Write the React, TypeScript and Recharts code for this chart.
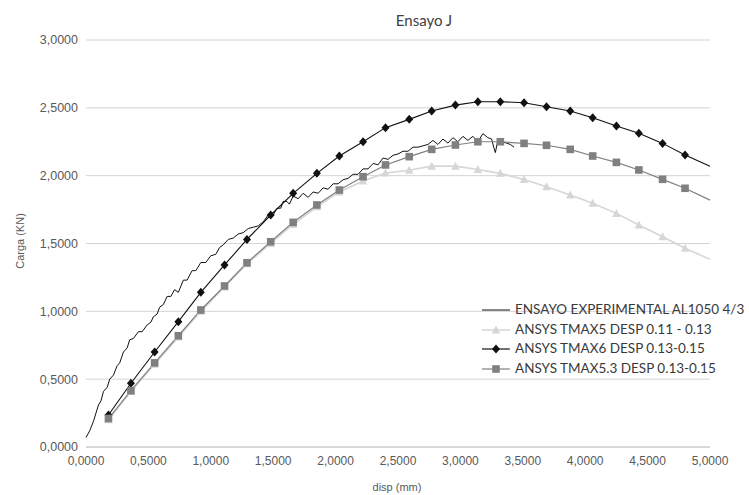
import React from 'react';
import { LineChart, Line, XAxis, YAxis, CartesianGrid, Legend } from 'recharts';

// Experimental curve
const expX = [
  0.00, 0.03, 0.06, 0.08, 0.10, 0.12, 0.14, 0.17, 0.19, 0.22, 0.25, 0.27, 0.30, 0.33, 0.35, 0.38, 0.42, 0.45, 0.49, 0.52,
  0.54, 0.57, 0.59, 0.62, 0.65, 0.68, 0.71, 0.74, 0.78, 0.81, 0.85, 0.88, 0.92, 0.96, 1.00, 1.04, 1.07, 1.10, 1.14, 1.18,
  1.22, 1.26, 1.30, 1.34, 1.38, 1.42, 1.46, 1.50, 1.53, 1.56, 1.58, 1.61, 1.63, 1.66, 1.70, 1.74, 1.78, 1.82, 1.86, 1.90,
  1.94, 1.98, 2.02, 2.06, 2.10, 2.14, 2.18, 2.22, 2.26, 2.30, 2.34, 2.38, 2.42, 2.46, 2.50, 2.54, 2.58, 2.62, 2.66, 2.70,
  2.74, 2.78, 2.82, 2.86, 2.90, 2.94, 2.98, 3.02, 3.06, 3.10, 3.14, 3.18, 3.22, 3.25, 3.27, 3.28, 3.30, 3.33, 3.37, 3.40, 3.43,
];
const expY = [
  0.07, 0.12, 0.19, 0.25, 0.31, 0.34, 0.41, 0.44, 0.50, 0.53, 0.60, 0.62, 0.70, 0.73, 0.79, 0.80, 0.85, 0.85, 0.90, 0.92,
  0.96, 0.98, 1.03, 1.05, 1.11, 1.11, 1.16, 1.14, 1.23, 1.23, 1.30, 1.30, 1.36, 1.36, 1.41, 1.42, 1.47, 1.49, 1.53, 1.54,
  1.57, 1.58, 1.61, 1.62, 1.63, 1.66, 1.71, 1.71, 1.76, 1.76, 1.81, 1.81, 1.79, 1.85, 1.83, 1.87, 1.84, 1.88, 1.87, 1.91,
  1.90, 1.94, 1.94, 1.97, 1.98, 2.01, 2.01, 2.05, 2.05, 2.09, 2.08, 2.13, 2.12, 2.15, 2.16, 2.18, 2.18, 2.21, 2.21, 2.22,
  2.23, 2.26, 2.23, 2.27, 2.24, 2.28, 2.25, 2.29, 2.26, 2.29, 2.25, 2.31, 2.28, 2.27, 2.20, 2.17, 2.26, 2.25, 2.24, 2.23, 2.21,
];

// ANSYS series (shared displacement values)
const ansysX = [
  0.18, 0.36, 0.55, 0.74, 0.92, 1.11, 1.29, 1.48, 1.66, 1.85, 2.03, 2.22, 2.40, 2.59, 2.77, 2.96, 3.14, 3.32, 3.51, 3.69,
  3.88, 4.06, 4.25, 4.43, 4.62, 4.80, 5.00,
];
const tmax5Y = [
  0.20, 0.41, 0.61, 0.81, 1.00, 1.18, 1.35, 1.50, 1.64, 1.77, 1.88, 1.96, 2.02, 2.04, 2.07, 2.07, 2.045, 2.017, 1.972, 1.919,
  1.857, 1.796, 1.722, 1.636, 1.55, 1.465, 1.383,
];
const tmax6Y = [
  0.236, 0.47, 0.70, 0.924, 1.14, 1.342, 1.53, 1.71, 1.87, 2.017, 2.145, 2.25, 2.354, 2.415, 2.477, 2.52, 2.545, 2.545, 2.538, 2.508,
  2.477, 2.427, 2.366, 2.312, 2.238, 2.152, 2.07,
];
const tmax53Y = [
  0.21, 0.415, 0.62, 0.82, 1.01, 1.187, 1.358, 1.513, 1.656, 1.784, 1.894, 1.992, 2.079, 2.14, 2.194, 2.226, 2.25, 2.25, 2.238, 2.224,
  2.194, 2.145, 2.098, 2.042, 1.973, 1.907, 1.82,
];

const xTicks = [0, 0.5, 1, 1.5, 2, 2.5, 3, 3.5, 4, 4.5, 5];
const yTicks = [0, 0.5, 1, 1.5, 2, 2.5, 3];

const seriesNames = [
  'ENSAYO EXPERIMENTAL AL1050 4/3',
  'ANSYS TMAX5 DESP 0.11 - 0.13',
  'ANSYS TMAX6 DESP 0.13-0.15',
  'ANSYS TMAX5.3 DESP 0.13-0.15',
];

const expData = expX.map((x, i) => ({ x, y: expY[i] }));
const tmax5Data = ansysX.map((x, i) => ({ x, y: tmax5Y[i] }));
const tmax6Data = ansysX.map((x, i) => ({ x, y: tmax6Y[i] }));
const tmax53Data = ansysX.map((x, i) => ({ x, y: tmax53Y[i] }));

const fmt = (v: number) => v.toFixed(4).replace('.', ',');

const C_EXP = '#111111';
const C_T5 = '#d6d6d6';
const C_T6 = '#111111';
const C_T53 = '#808080';

type Shape = 'diamond' | 'square' | 'triangle';

const marker = (shape: Shape, cx: number, cy: number, color: string, k?: string) => {
  if (shape === 'diamond') {
    return <polygon key={k} points={`${cx},${cy - 4.5} ${cx + 4},${cy} ${cx},${cy + 4.5} ${cx - 4},${cy}`} fill={color} />;
  }
  if (shape === 'square') {
    return <rect key={k} x={cx - 3.8} y={cy - 3.8} width={7.6} height={7.6} fill={color} />;
  }
  return <polygon key={k} points={`${cx},${cy - 4.5} ${cx + 4.2},${cy + 3.5} ${cx - 4.2},${cy + 3.5}`} fill={color} />;
};

const makeDot = (shape: Shape, color: string, n: number) => (props: any) => {
  const { cx, cy, index } = props;
  const k = `dot-${shape}-${index}`;
  if (cx == null || cy == null || index === n - 1) return <g key={k} />;
  return marker(shape, cx, cy, color, k);
};

const legendIcons = [
  { color: C_EXP, shape: null as Shape | null, width: 1 },
  { color: C_T5, shape: 'triangle' as Shape, width: 1.5 },
  { color: C_T6, shape: 'diamond' as Shape, width: 1.2 },
  { color: C_T53, shape: 'square' as Shape, width: 1.2 },
];

const LegendBox = () => (
  <div style={{ fontFamily: 'Lato, sans-serif', fontSize: 13.5, color: '#3a3a3a', textAlign: 'left' }}>
    {seriesNames.map((name, i) => (
      <div key={name} style={{ position: 'relative', height: 19.5 }}>
        <svg width={32} height={12} style={{ position: 'absolute', left: 0, top: 4 }}>
          <line x1={2} y1={6} x2={30} y2={6} stroke={legendIcons[i].color} strokeWidth={legendIcons[i].width} />
          {legendIcons[i].shape ? marker(legendIcons[i].shape as Shape, 16, 6, legendIcons[i].color) : null}
        </svg>
        <span style={{ position: 'absolute', left: 35, top: 0, whiteSpace: 'nowrap', lineHeight: '19.5px' }}>{name}</span>
      </div>
    ))}
  </div>
);

export default function App() {
  return (
    <div style={{ position: 'absolute', left: 0, top: 0, width: 749, height: 495, background: '#fff', overflow: 'hidden', fontFamily: '"Liberation Sans", Arial, sans-serif' }}>
      <LineChart width={749} height={495} margin={{ top: 40, right: 39, bottom: 18, left: 16 }}>
        <CartesianGrid vertical={false} stroke="#d4d4d4" />
        <XAxis
          type="number"
          dataKey="x"
          domain={[0, 5]}
          ticks={xTicks}
          tickFormatter={fmt}
          height={30}
          tickLine={false}
          tickSize={0}
          tickMargin={9}
          axisLine={{ stroke: '#c8c8c8' }}
          tick={{ fill: '#595959', fontSize: 12, fontFamily: '"Liberation Sans", Arial, sans-serif' }}
          allowDuplicatedCategory={false}
        />
        <YAxis
          type="number"
          dataKey="y"
          domain={[0, 3]}
          ticks={yTicks}
          tickFormatter={fmt}
          width={70}
          tickLine={false}
          tickSize={0}
          tickMargin={8}
          axisLine={false}
          tick={{ fill: '#595959', fontSize: 12.5, fontFamily: '"Liberation Sans", Arial, sans-serif' }}
        />
        <Legend
          layout="horizontal"
          verticalAlign="middle"
          align="center"
          content={() => <LegendBox />}
          wrapperStyle={{ position: 'absolute', left: 480, top: 300, width: 266, height: 80, bottom: 'auto', right: 'auto' }}
        />
        <Line data={expData} dataKey="y" name={seriesNames[0]} stroke={C_EXP} strokeWidth={1} dot={false} isAnimationActive={false} />
        <Line data={tmax5Data} dataKey="y" name={seriesNames[1]} stroke={C_T5} strokeWidth={1.6} dot={makeDot('triangle', C_T5, tmax5Data.length)} isAnimationActive={false} />
        <Line data={tmax6Data} dataKey="y" name={seriesNames[2]} stroke={C_T6} strokeWidth={1.1} dot={makeDot('diamond', C_T6, tmax6Data.length)} isAnimationActive={false} />
        <Line data={tmax53Data} dataKey="y" name={seriesNames[3]} stroke={C_T53} strokeWidth={1.2} dot={makeDot('square', C_T53, tmax53Data.length)} isAnimationActive={false} />
      </LineChart>
      <div style={{ position: 'absolute', left: 324, top: 11, width: 200, textAlign: 'center', fontFamily: 'Lato, "Open Sans", sans-serif', fontSize: 15, color: '#404040' }}>
        Ensayo J
      </div>
      <div style={{ position: 'absolute', left: 297, top: 481, width: 200, textAlign: 'center', fontSize: 11, color: '#595959' }}>
        disp (mm)
      </div>
      <div style={{ position: 'absolute', left: 20, top: 243, width: 0, height: 0 }}>
        <div style={{ position: 'absolute', left: -100, top: -8, width: 200, textAlign: 'center', fontSize: 11, color: '#595959', transform: 'rotate(-90deg)', whiteSpace: 'nowrap' }}>
          Carga (KN)
        </div>
      </div>
    </div>
  );
}
